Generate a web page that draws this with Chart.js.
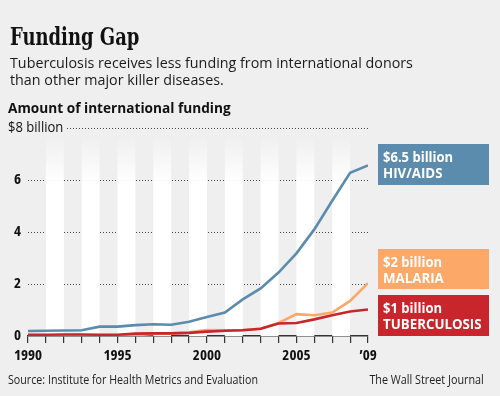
<!DOCTYPE html>
<html>
<head>
<meta charset="utf-8">
<script src="https://cdn.jsdelivr.net/npm/chart.js@4"></script>
<style>
  body { margin: 0; background: #efefef; }
  #wrap { position: relative; width: 500px; height: 396px; background: #efefef; overflow: hidden; }
  #myChart { position: absolute; left: 0; top: 0; }
  .txt { position: absolute; white-space: nowrap; color: #111; transform-origin: left top; }
  #title { left: 10px; top: 25px; font: bold 23.5px/24px "DejaVu Serif Condensed", "DejaVu Serif", serif; transform: scaleX(0.85); }
  #sub { left: 10px; top: 53.7px; font: 15px/17.5px "Open Sans", sans-serif; color: #1a1a1a; transform: scaleX(0.953); }
  #amt { left: 8px; top: 96.5px; font: bold 15px/20px "Open Sans", sans-serif; transform: scaleX(0.91); }
  #src { left: 8px; top: 368.5px; font: 13px/20px "Open Sans", sans-serif; color: #222; transform: scaleX(0.822); }
  #wsj { right: 16px; top: 368.5px; font: 13px/20px "Open Sans", sans-serif; color: #222; transform: scaleX(0.83); transform-origin: right top; }
</style>
</head>
<body>
<div id="wrap">
  <canvas id="myChart" width="500" height="396"></canvas>
  <div class="txt" id="title">Funding Gap</div>
  <div class="txt" id="sub">Tuberculosis receives less funding from international donors<br>than other major killer diseases.</div>
  <div class="txt" id="amt">Amount of international funding</div>
  <div class="txt" id="src">Source: Institute for Health Metrics and Evaluation</div>
  <div class="txt" id="wsj">The Wall Street Journal</div>
</div>
<script>
// values in billions of dollars
const years = [1990, 1991, 1992, 1993, 1994, 1995, 1996, 1997, 1998, 1999,
               2000, 2001, 2002, 2003, 2004, 2005, 2006, 2007, 2008, 2009];
const hivAids = [0.19, 0.2, 0.21, 0.22, 0.36, 0.36, 0.42, 0.45, 0.43, 0.55,
                 0.73, 0.9, 1.41, 1.83, 2.44, 3.18, 4.1, 5.2, 6.28, 6.56];
const malaria = [0.03, 0.03, 0.03, 0.03, 0.02, 0.01, 0.03, 0.08, 0.1, 0.14,
                 0.23, 0.22, 0.23, 0.28, 0.5, 0.84, 0.8, 0.9, 1.35, 2.03];
const tuberculosis = [0.05, 0.05, 0.06, 0.06, 0.05, 0.05, 0.09, 0.1, 0.1, 0.12,
                      0.17, 0.2, 0.22, 0.28, 0.48, 0.5, 0.64, 0.8, 0.94, 1.02];
const seriesNames = ['HIV/AIDS', 'MALARIA', 'TUBERCULOSIS'];
const seriesTotals = ['$6.5 billion', '$2 billion', '$1 billion'];
const xTickLabels = { 1990: '1990', 1995: '1995', 2000: '2000', 2005: '2005', 2009: '\u201909' };
const yTicks = [0, 2, 4, 6, 8];
const yTopLabel = '$8 billion';

const colors = ['#5b8cad', '#fba868', '#c9252c'];
const tickFont = { family: '"Open Sans", sans-serif', weight: 'bold semi-condensed', size: 15 };

// white column bands behind the lines, every other year
const stripes = {
    id: 'stripes',
    beforeDatasetsDraw(chart) {
        const { ctx, chartArea, scales: { x } } = chart;
        const top = chartArea.top + 6;
        const g = ctx.createLinearGradient(0, top, 0, top + 50);
        g.addColorStop(0, 'rgba(255,255,255,0)');
        g.addColorStop(1, 'rgba(255,255,255,1)');
        ctx.save();
        ctx.fillStyle = g;
        for (let yr = years[1]; yr < years[years.length - 1] - 1; yr += 2) {
            const x0 = x.getPixelForValue(yr);
            const x1 = x.getPixelForValue(yr + 1);
            ctx.fillRect(x0, top, x1 - x0, chartArea.bottom - top);
        }
        ctx.restore();
    }
};

// squeezed text, the source font is a narrow one
function narrowText(ctx, text, x, y, sx) {
    ctx.save();
    ctx.translate(x, y);
    ctx.scale(sx, 1);
    ctx.fillText(text, 0, 0);
    ctx.restore();
}

// "$8 billion" label and series boxes on the right
const annotations = {
    id: 'annotations',
    afterDraw(chart) {
        const { ctx, scales: { y } } = chart;
        const y8 = y.getPixelForValue(8);
        ctx.save();
        ctx.fillStyle = '#efefef';
        ctx.fillRect(0, y8 - 9, 67, 18);
        ctx.fillStyle = '#111';
        ctx.font = '14.5px "Open Sans", sans-serif';
        ctx.textBaseline = 'middle';
        ctx.textAlign = 'left';
        narrowText(ctx, yTopLabel, 8, y8, 0.9);

        const boxes = [[144, 41], [249, 40], [295, 41]];
        ctx.textBaseline = 'alphabetic';
        boxes.forEach(([top, h], i) => {
            ctx.fillStyle = colors[i];
            ctx.fillRect(378, top, 111, h);
            ctx.fillStyle = '#fff';
            ctx.font = 'bold 14px "Open Sans", sans-serif';
            narrowText(ctx, seriesTotals[i], 383, top + 17.5, 0.93);
            narrowText(ctx, seriesNames[i], 383, top + 34, 0.95);
        });
        ctx.restore();
    }
};

const ctx = document.getElementById('myChart').getContext('2d');
const lineData = [hivAids, malaria, tuberculosis];
const chart = new Chart(ctx, {
    type: 'line',
    data: {
        datasets: lineData.map((vals, i) => ({
            label: seriesNames[i],
            data: vals.map((v, j) => ({ x: years[j], y: v })),
            borderColor: colors[i],
            borderWidth: 2.6,
            pointRadius: 0,
            tension: 0,
            order: 2 - i
        }))
    },
    options: {
        responsive: false,
        animation: false,
        layout: { padding: { top: 128, right: 132, left: 0, bottom: 0 } },
        plugins: { legend: { display: false }, tooltip: { enabled: false } },
        scales: {
            x: {
                type: 'linear',
                min: 1990,
                max: 2009,
                afterFit: s => { s.height = 60; },
                afterBuildTicks: s => { s.ticks = years.map(v => ({ value: v })); },
                border: { color: '#333', width: 1.5 },
                grid: { drawOnChartArea: false, color: '#333', tickLength: 7, lineWidth: 1.2 },
                ticks: {
                    autoSkip: false,
                    maxRotation: 0,
                    padding: 4,
                    color: '#111',
                    font: tickFont,
                    callback: v => xTickLabels[v] || ''
                }
            },
            y: {
                min: 0,
                max: 8,
                afterFit: s => { s.width = 28; },
                afterBuildTicks: s => { s.ticks = yTicks.map(v => ({ value: v })); },
                border: { display: false, dash: [1, 2] },
                grid: {
                    drawTicks: false,
                    color: c => c.tick && c.tick.value === 0 ? 'rgba(0,0,0,0)' : '#444',
                    lineWidth: 1
                },
                ticks: {
                    padding: 7,
                    color: '#111',
                    font: tickFont,
                    callback: v => v === 8 ? '' : v
                }
            }
        }
    },
    plugins: [stripes, annotations]
});
</script>
</body>
</html>
